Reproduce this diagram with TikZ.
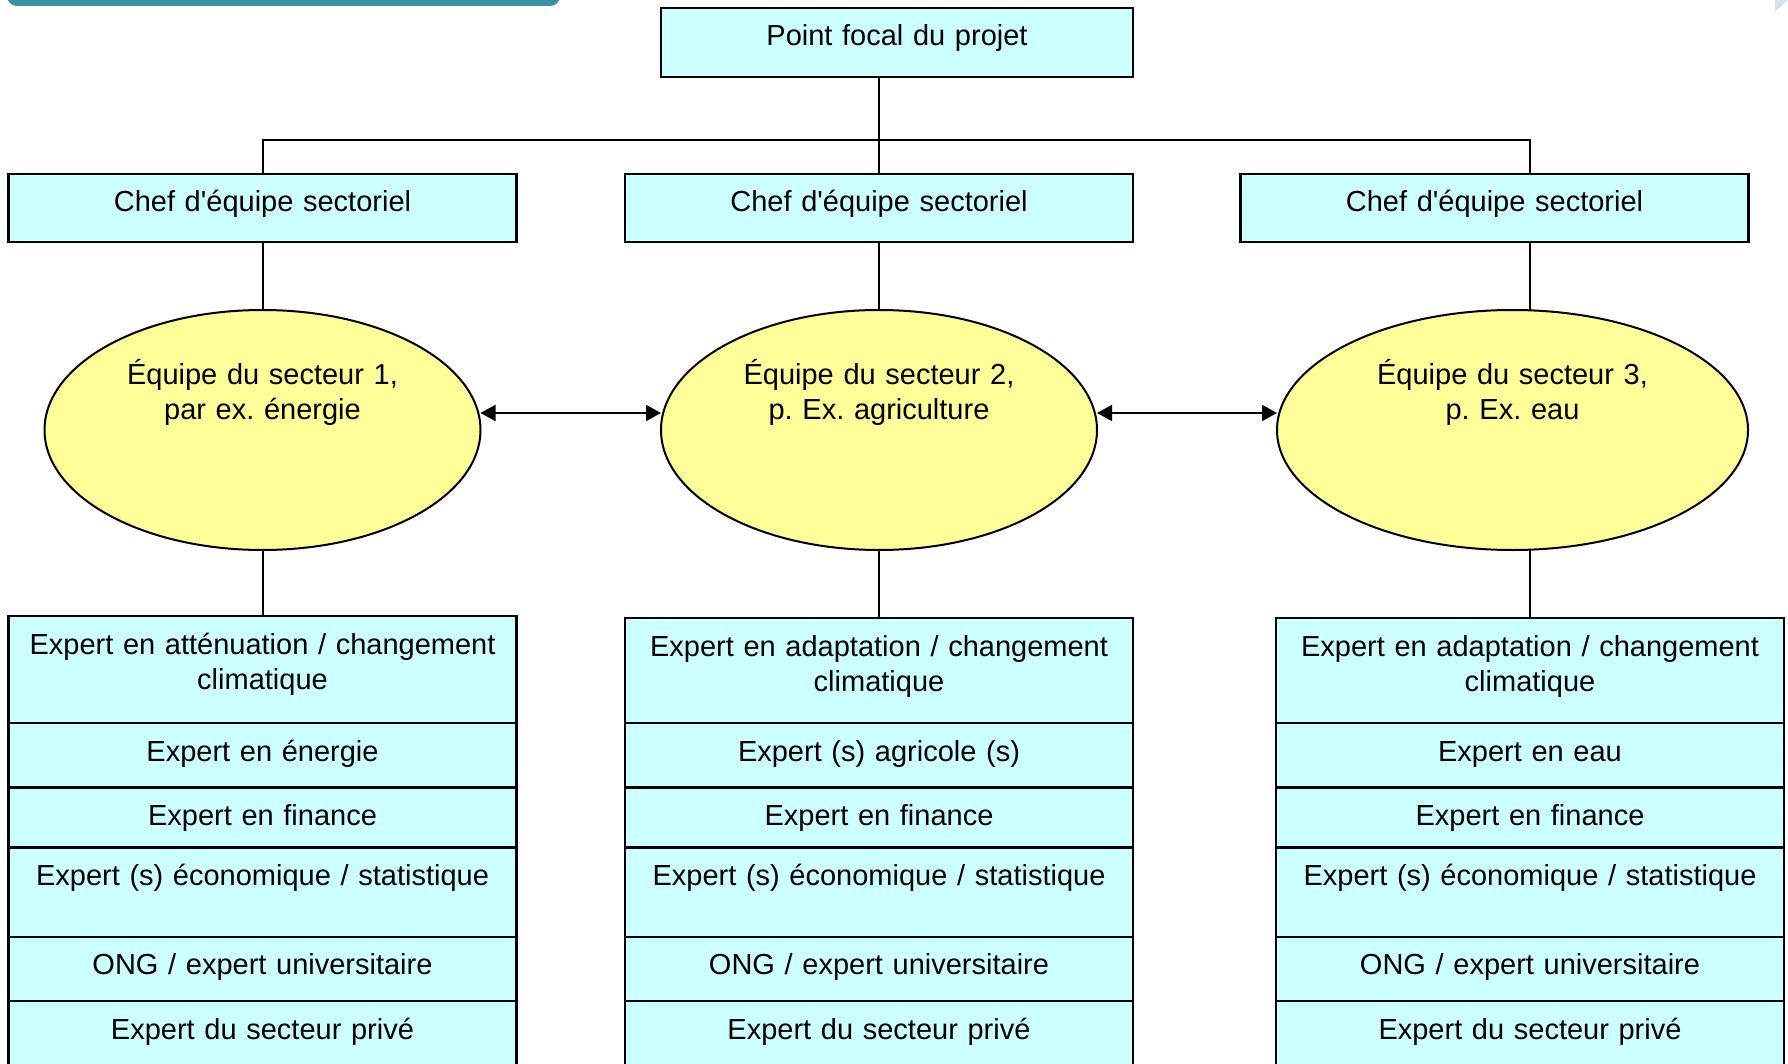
\documentclass[tikz,border=0pt]{standalone}
\usepackage{fontspec}
\setmainfont{Liberation Sans}[Ligatures=TeXOff]
\usetikzlibrary{shapes.geometric,arrows.meta,positioning}

\definecolor{cellcyan}{HTML}{CCFFFF}
\definecolor{teamyellow}{HTML}{FFFF99}
\definecolor{slidebar}{HTML}{3891A6}
\definecolor{slidecorner}{HTML}{D6E4EA}

\tikzset{
	every node/.style={font=\fontsize{14.5pt}{17.5pt}\selectfont},
	box/.style={draw=black, line width=1.2pt, fill=cellcyan, inner sep=0pt, outer sep=0pt,
		text width=254pt, align=center, text height=19pt, anchor=north},
	team/.style={draw=black, line width=1pt, fill=teamyellow, ellipse, inner sep=0pt, outer sep=0pt,
		text width=136pt, align=center, minimum width=218pt, minimum height=120pt,
		text height=12pt, text depth=58pt},
	link/.style={line width=1pt},
	>={Triangle[length=7.5pt,width=8pt]}
}

\begin{document}
\frenchspacing
\begin{tikzpicture}[x=0.5pt,y=-0.5pt]
	\useasboundingbox (0,0) rectangle (1788,1064);
	\clip (0,0) rectangle (1788,1064);

	% bits of the slide around the chart
	\fill[slidebar, rounded corners=5pt] (7,-30) rectangle (560,6);
	\fill[slidecorner] (1775,0) -- (1775,12) -- (1788,0) -- cycle;

	% head and team leaders
	\node[box, text width=236pt, text depth=15.5pt] (top) at (897,8) {Point focal du projet};
	\node[box, text depth=15pt] (chef1) at (262.5,174) {Chef d'équipe sectoriel};
	\node[box, text depth=15pt] (chef2) at (879,174) {Chef d'équipe sectoriel};
	\node[box, text depth=15pt] (chef3) at (1494.5,174) {Chef d'équipe sectoriel};

	% sector teams
	\node[team] (ell1) at (262.5,430) {Équipe du secteur 1,\\ par ex. énergie};
	\node[team] (ell2) at (879,430) {Équipe du secteur 2,\\ p. Ex. agriculture};
	\node[team, minimum width=235.5pt] (ell3) at (1512.5,430) {Équipe du secteur 3,\\ p. Ex. eau};

	% experts, sector 1
	\node[box, text depth=34.6pt] (tab1a) at (262.5,616) {Expert en atténuation / changement\\ climatique};
	\node[box, text depth=13.1pt, below=0pt of tab1a] (tab1b) {Expert en énergie};
	\node[box, text depth=11.1pt, below=0pt of tab1b] (tab1c) {Expert en finance};
	\node[box, text depth=25.6pt, below=0pt of tab1c] (tab1d) {Expert (s) économique / statistique};
	\node[box, text depth=13.1pt, below=0pt of tab1d] (tab1e) {ONG / expert universitaire};
	\node[box, text depth=26pt, below=0pt of tab1e] (tab1f) {Expert du secteur privé};

	% experts, sector 2
	\node[box, text depth=33.6pt] (tab2a) at (879,618) {Expert en adaptation / changement\\ climatique};
	\node[box, text depth=13.1pt, below=0pt of tab2a] (tab2b) {Expert (s) agricole (s)};
	\node[box, text depth=11.1pt, below=0pt of tab2b] (tab2c) {Expert en finance};
	\node[box, text depth=25.6pt, below=0pt of tab2c] (tab2d) {Expert (s) économique / statistique};
	\node[box, text depth=13.1pt, below=0pt of tab2d] (tab2e) {ONG / expert universitaire};
	\node[box, text depth=26pt, below=0pt of tab2e] (tab2f) {Expert du secteur privé};

	% experts, sector 3
	\node[box, text depth=33.6pt] (tab3a) at (1530,618) {Expert en adaptation / changement\\ climatique};
	\node[box, text depth=13.1pt, below=0pt of tab3a] (tab3b) {Expert en eau};
	\node[box, text depth=11.1pt, below=0pt of tab3b] (tab3c) {Expert en finance};
	\node[box, text depth=25.6pt, below=0pt of tab3c] (tab3d) {Expert (s) économique / statistique};
	\node[box, text depth=13.1pt, below=0pt of tab3d] (tab3e) {ONG / expert universitaire};
	\node[box, text depth=26pt, below=0pt of tab3e] (tab3f) {Expert du secteur privé};

	% connectors
	\coordinate (bus) at (879,140);
	\draw[link] (top.south -| chef2.north) -- (chef2.north);
	\draw[link] (chef1.north) |- (bus) -| (tab3a.north |- chef3.north);
	\draw[link] (chef1.south) -- (ell1.north);
	\draw[link] (chef2.south) -- (ell2.north);
	\draw[link] (tab3a.north |- chef3.south) -- (tab3a.north |- ell3.north);
	\draw[link] (ell1.south) -- (tab1a.north);
	\draw[link] (ell2.south) -- (tab2a.north);
	\draw[link] (tab3a.north |- ell3.south) -- (tab3a.north);

	\draw[link,<->] ([yshift=8.5pt]ell1.east) -- ([yshift=8.5pt]ell2.west);
	\draw[link,<->] ([yshift=8.5pt]ell2.east) -- ([yshift=8.5pt]ell3.west);
\end{tikzpicture}
\end{document}
